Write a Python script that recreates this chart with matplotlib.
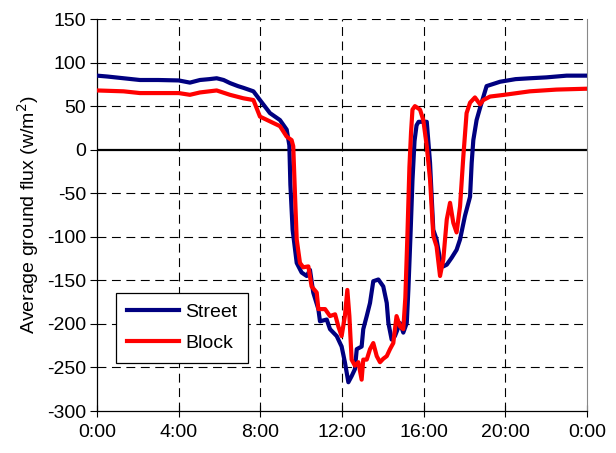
import matplotlib
matplotlib.use('Agg')
import matplotlib.pyplot as plt
from matplotlib.ticker import FixedLocator, FuncFormatter

## hours of the day and average ground flux (w/m2)
street_hours = [0.0, 0.5, 1.3, 2.1, 3.0, 4.0, 4.55, 5.04, 5.5, 5.86, 6.2, 6.51, 6.9, 7.17,
                7.66, 7.98, 8.47, 8.96, 9.29, 9.42, 9.47, 9.58, 9.78, 10.02, 10.27, 10.43,
                10.59, 10.84, 10.92, 11.25, 11.41, 11.74, 11.98, 12.14, 12.31, 12.47, 12.63,
                12.72, 12.96, 13.04, 13.21, 13.37, 13.53, 13.78, 14.02, 14.19, 14.27, 14.43,
                14.59, 14.84, 15.0, 15.17, 15.25, 15.35, 15.45, 15.55, 15.65, 15.75, 16.15,
                16.31, 16.39, 16.47, 16.63, 16.8, 16.96, 17.13, 17.37, 17.61, 17.78, 18.02,
                18.27, 18.35, 18.43, 18.59, 18.76, 19.08, 19.74, 20.5, 21.2, 22.0, 23.0, 24.0]
street_flux = [85, 84, 82, 80, 80, 79.5, 77, 80, 81, 82, 80, 76.5, 73, 71,
               67, 57, 42, 34, 23, 5, -40, -92, -130, -141, -145, -138,
               -164, -183, -197, -195, -206, -214, -226, -244, -267, -260, -252,
               -229, -226, -206, -191, -176, -151, -149, -157, -176, -199, -218,
               -214, -199, -210, -199, -160, -100, -35, 10, 28, 32, 32,
               -15, -54, -92, -103, -126, -134, -132, -124, -115, -103, -76,
               -54, -15, 11, 34, 48, 73, 78, 81, 82, 83, 85, 85]

block_hours = [0.0, 1.3, 2.1, 4.0, 4.55, 5.04, 5.86, 6.51, 7.17, 7.66, 7.98, 8.47, 8.96,
               9.29, 9.53, 9.61, 9.7, 9.78, 9.94, 10.1, 10.35, 10.51, 10.76, 10.84, 11.17,
               11.41, 11.66, 11.82, 11.98, 12.14, 12.26, 12.36, 12.47, 12.63, 12.8, 12.96,
               13.04, 13.21, 13.37, 13.53, 13.7, 13.86, 14.02, 14.19, 14.35, 14.51, 14.67,
               14.84, 15.0, 15.1, 15.2, 15.3, 15.38, 15.45, 15.57, 15.82, 15.98, 16.15,
               16.31, 16.47, 16.63, 16.8, 16.96, 17.13, 17.29, 17.45, 17.61, 17.78, 17.94,
               18.1, 18.27, 18.51, 18.76, 18.92, 19.25, 19.95, 21.2, 22.5, 24.0]
block_flux = [68, 67, 65, 65, 63, 65.7, 68, 63, 59, 57, 38, 32.5, 27,
              15, 11, 4, -54, -103, -130, -135, -134, -157, -164, -183, -183,
              -191, -189, -203, -214, -191, -161, -191, -241, -248, -244, -264,
              -241, -241, -229, -222, -237, -244, -240, -237, -229, -222, -191,
              -203, -206, -170, -100, -20, 20, 46, 50, 46, 34, 4,
              -34, -99, -111, -145, -126, -80, -61, -84, -95, -65, -8,
              42, 54, 60, 52, 57, 61, 63, 67, 69, 70]

hour_ticks = [0, 4, 8, 12, 16, 20, 24]
flux_ticks = [-300, -250, -200, -150, -100, -50, 0, 50, 100, 150]

plt.rcParams['font.family'] = ['Liberation Sans', 'DejaVu Sans']
plt.rcParams['axes.unicode_minus'] = False

fig = plt.figure(figsize=(6.16, 4.53), dpi=100)
fig.subplots_adjust(left=0.1575, right=0.953, top=0.958, bottom=0.0927)
ax = fig.add_subplot(111)

## dashed grid, skipping the zero line and the frame
dash = dict(color='black', linewidth=0.8, linestyle=(0, (8, 5)), zorder=1)
for v in flux_ticks:
    if v not in (0, -300):
        ax.axhline(v, **dash)
for h in hour_ticks[1:-1]:
    ax.axvline(h, **dash)
ax.axhline(0, color='black', linewidth=1.6, zorder=2)

ax.plot(street_hours, street_flux, color='#000080', linewidth=3, label='Street', zorder=3)
ax.plot(block_hours, block_flux, color='#ff0000', linewidth=3, label='Block', zorder=4)

ax.set_xlim(0, 24)
ax.set_ylim(-300, 150)
ax.xaxis.set_major_locator(FixedLocator(hour_ticks))
ax.xaxis.set_major_formatter(FuncFormatter(lambda h, pos: f'{int(h) % 24}:00'))
ax.yaxis.set_major_locator(FixedLocator(flux_ticks))
ax.tick_params(axis='x', direction='inout', length=8, width=0.8, labelsize=14, pad=5)
ax.tick_params(axis='y', direction='out', length=5, width=0.8, labelsize=14, pad=3)

ax.spines['top'].set_visible(False)
ax.spines['right'].set_color('#888888')
for s in ('left', 'bottom'):
    ax.spines[s].set_linewidth(0.9)

ax.set_ylabel('Average ground flux (w/m$^2$)', fontsize=14, labelpad=4)

leg = ax.legend(loc='upper left', bbox_to_anchor=(0.039, 0.302), borderaxespad=0,
                fontsize=14, fancybox=False, framealpha=1, edgecolor='black',
                handlelength=2.7, handletextpad=0.3, labelspacing=0.7,
                borderpad=0.55)
leg.get_frame().set_linewidth(0.9)

fig.savefig('out.png', dpi=100)
